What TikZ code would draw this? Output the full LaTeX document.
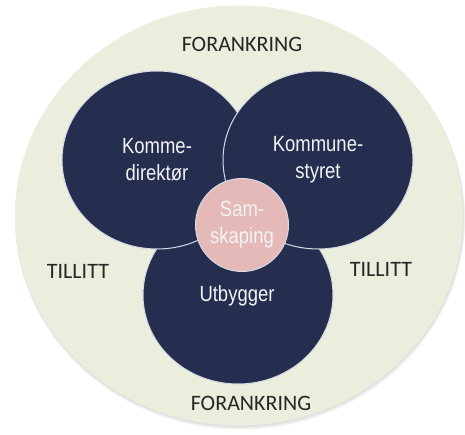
\documentclass[tikz,border=0pt]{standalone}
\usepackage{fontspec}
\setmainfont{Liberation Sans}
\newfontfamily\labfont{Carlito}
\newfontfamily\circfont[FakeStretch=0.84]{Liberation Sans}
\usetikzlibrary{shapes.geometric}
\definecolor{ring}{HTML}{EBEEDD}
\definecolor{navy}{HTML}{262E50}
\definecolor{rosa}{HTML}{E5B9B8}
\definecolor{edge}{HTML}{D5DAE4}
\tikzset{
  dark/.style={ellipse, fill=navy, draw=edge, line width=1pt, minimum width=190pt, minimum height=178pt, inner sep=0pt},
  lab/.style={font=\labfont\fontsize{22}{24}\selectfont, text=black!85, inner sep=0pt},
  ctext/.style={font=\circfont\fontsize{22}{27}\selectfont, text=white!94!navy, align=center, inner sep=0pt},
}
\begin{document}
\begin{tikzpicture}[x=1pt,y=-1pt]
\useasboundingbox (0,0) rectangle (465,435);
\fill[white] (0,0) rectangle (465,435);
% shadow
\fill[black, opacity=0.06] (240,218.5) ellipse [x radius=225, y radius=211];
\fill[black, opacity=0.06] (239.5,217) ellipse [x radius=224.5, y radius=210.5];
\node[ellipse, fill=ring, minimum width=448pt, minimum height=420pt, inner sep=0pt] (outer) at (239,215.5) {};
\node[dark] (ub) at (238,295) {};
\node[dark] (kd) at (157,160) {};
\node[dark] (ks) at (318,160) {};
\node[circle, fill=rosa, draw=edge, line width=1pt, minimum size=93pt, inner sep=0pt] (sam) at (242,225) {};
\node[lab] (f1) at (242,44) {FORANKRING};
\node[lab] (f2) at (251,403) {FORANKRING};
\node[lab] (t1) at (78,271) {TILLITT};
\node[lab] (t2) at (381,269) {TILLITT};
\node[ctext] (kdt) at (157,160) {Komme-\\direktør};
\node[ctext] (kst) at (318,160) {Kommune-\\styret};
\node[ctext] (samt) at (242,225) {Sam-\\skaping};
\node[ctext] (ubt) at (237,296) {Utbygger};
\end{tikzpicture}
\end{document}
